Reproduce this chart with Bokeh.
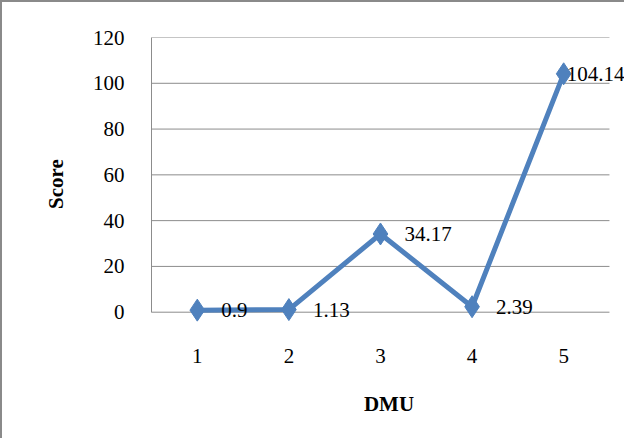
from bokeh.plotting import figure
from bokeh.models import ColumnDataSource, Label, Range1d, FixedTicker
from bokeh.embed import file_html
from bokeh.resources import INLINE

dmu = [1, 2, 3, 4, 5]
scores = [0.9, 1.13, 34.17, 2.39, 104.14]
score_labels = ["0.9", "1.13", "34.17", "2.39", "104.14"]
y_ticks = [0, 20, 40, 60, 80, 100, 120]

src = ColumnDataSource(dict(x=dmu, y=scores, t=score_labels))

FONT = "Liberation Serif"
BLUE = "#4F81BD"
GRID = "#8C8C8C"

p = figure(width=624, height=438, output_backend="svg", toolbar_location=None,
           x_range=Range1d(0.5, 5.686), y_range=Range1d(-8, 120),
           min_border_left=149, min_border_top=35, min_border_right=0,
           min_border_bottom=110)
p.styles = {"border-left": "2px solid #8a8a8a", "border-top": "2px solid #8a8a8a"}
p.outline_line_color = None
p.background_fill_color = "white"
p.border_fill_color = "white"

# horizontal gridlines spanning only the category area
p.segment(x0=[dmu[0] - 0.5] * len(y_ticks), x1=[dmu[-1] + 0.5] * len(y_ticks),
          y0=y_ticks, y1=y_ticks, line_color=GRID, line_width=1)

p.line("x", "y", source=src, line_color=BLUE, line_width=5)
p.scatter("x", "y", source=src, marker="diamond", size=22, fill_color=BLUE,
          line_color=BLUE)

for i, (xv, yv, tv) in enumerate(zip(dmu, scores, score_labels)):
    off = 3 if i == len(dmu) - 1 else 24
    p.add_layout(Label(x=xv, y=yv, text=tv, x_offset=off, y_offset=0,
                       text_baseline="middle", text_align="left",
                       text_font=FONT, text_font_size="21px",
                       text_color="#000000"))

p.xaxis.ticker = FixedTicker(ticks=dmu)
p.yaxis.ticker = FixedTicker(ticks=y_ticks)
p.xgrid.grid_line_color = None
p.ygrid.grid_line_color = None

for ax in (p.xaxis[0], p.yaxis[0]):
    ax.major_tick_line_color = None
    ax.minor_tick_line_color = None
    ax.major_label_text_font = FONT
    ax.major_label_text_font_size = "21px"
    ax.major_label_text_color = "#000000"
    ax.axis_label_text_font = FONT
    ax.axis_label_text_font_size = "21px"
    ax.axis_label_text_font_style = "bold"
    ax.axis_label_text_color = "#000000"

p.xaxis.axis_line_color = None
p.xaxis.major_label_standoff = 12
p.xaxis.axis_label = "DMU"
p.xaxis.axis_label_standoff = 26

p.yaxis.axis_line_color = GRID
p.yaxis.bounds = (0, 120)
p.yaxis.major_label_standoff = 21
p.yaxis.axis_label = "Score"
p.yaxis.axis_label_standoff = 22

open("out.html", "w").write(file_html(p, INLINE))
